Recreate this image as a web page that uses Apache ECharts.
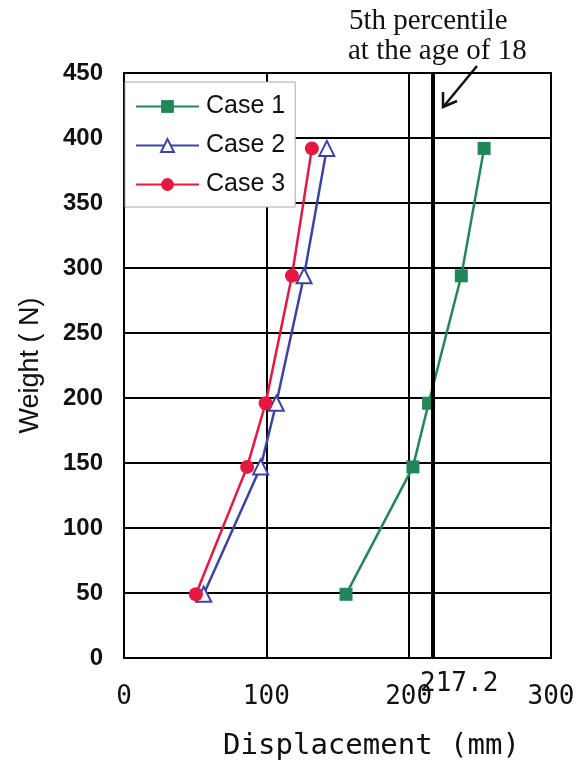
<!DOCTYPE html>
<html>
<head>
<meta charset="utf-8">
<script src="https://cdn.jsdelivr.net/npm/echarts@6/dist/echarts.min.js"></script>
<style>
html,body{margin:0;padding:0;background:#fff;}
#chart{width:587px;height:762px;}
</style>
</head>
<body>
<div id="chart"></div>
<script>
// Weights (N) and displacements (mm)
const weights = [49, 147, 196, 294, 392];
const case1 = [156, 203, 214, 237, 253];
const case2 = [56, 96, 107, 126.5, 142.5];
const case3 = [50.5, 86.5, 99.5, 118, 132];
const seriesNames = ['Case 1', 'Case 2', 'Case 3'];
const percentileValue = 217.2;
const xTicks = [0, 100, 200, 300];
const yTicks = [0, 50, 100, 150, 200, 250, 300, 350, 400, 450];

const pairs = (xs) => xs.map((x, i) => [x, weights[i]]);

const chart = echarts.init(document.getElementById('chart'), null, {renderer: 'canvas'});

const gridLine = {show: true, lineStyle: {color: '#000', width: 2}};

chart.setOption({
  animation: false,
  backgroundColor: '#fff',
  grid: {left: 124, right: 36, top: 73, bottom: 104, containLabel: false, outerBoundsMode: 'none',
         show: true, borderColor: '#000', borderWidth: 2, backgroundColor: 'transparent'},
  legend: {
    left: 125, top: 82,
    orient: 'vertical',
    data: seriesNames,
    backgroundColor: '#fff',
    borderColor: '#aaa', borderWidth: 1,
    padding: [12, 10, 10, 10],
    itemWidth: 63, itemHeight: 16, itemGap: 14,
    textStyle: {fontFamily: 'Liberation Sans', fontSize: 25, color: '#111', padding: [0, 0, 0, 2]}
  },
  xAxis: {
    type: 'value', min: xTicks[0], max: xTicks[xTicks.length - 1], interval: 100,
    name: 'Displacement (mm)', nameLocation: 'middle', nameGap: 74,
    nameTextStyle: {fontFamily: 'DejaVu Sans Mono', fontSize: 29, color: '#111', padding: [0, 0, 0, 68]},
    axisLine: {show: true, lineStyle: {color: '#000', width: 2}},
    axisTick: {show: false},
    axisLabel: {margin: 26, fontFamily: 'DejaVu Sans Mono', fontSize: 26, color: '#111'},
    splitLine: gridLine
  },
  yAxis: {
    type: 'value', min: yTicks[0], max: yTicks[yTicks.length - 1], interval: 50,
    name: 'Weight ( N)', nameLocation: 'middle', nameGap: 80,
    nameTextStyle: {fontFamily: 'Liberation Sans', fontSize: 27, color: '#111'},
    axisLine: {show: true, lineStyle: {color: '#000', width: 2}},
    axisTick: {show: false},
    axisLabel: {margin: 21, fontFamily: 'Liberation Sans', fontSize: 24, fontWeight: 'bold', color: '#111'},
    splitLine: gridLine
  },
  series: [
    {
      name: seriesNames[0], type: 'line', data: pairs(case1),
      symbol: 'rect', symbolSize: 13,
      lineStyle: {color: '#21875a', width: 2.5},
      itemStyle: {color: '#21875a'},
      markLine: {
        silent: true, symbol: 'none',
        lineStyle: {color: '#000', width: 4, type: 'solid'},
        label: {show: true, position: 'start', formatter: String(percentileValue), fontFamily: 'DejaVu Sans Mono', fontSize: 26, color: '#111', offset: [26, 8]},
        data: [{xAxis: percentileValue}]
      },
      z: 3
    },
    {
      name: seriesNames[1], type: 'line', data: pairs(case2),
      symbol: 'triangle', symbolSize: 15,
      lineStyle: {color: '#3c42a8', width: 2.5},
      itemStyle: {color: '#fff', borderColor: '#3c42a8', borderWidth: 2},
      z: 4
    },
    {
      name: seriesNames[2], type: 'line', data: pairs(case3),
      symbol: 'circle', symbolSize: 14,
      lineStyle: {color: '#e8173f', width: 2.5},
      itemStyle: {color: '#e8173f'},
      z: 5
    }
  ],
  graphic: [
    {type: 'text', left: 349, top: 7, style: {text: '5th percentile', fontFamily: 'Liberation Serif', fontSize: 29, fill: '#111'}},
    {type: 'text', left: 348, top: 37, style: {text: 'at the age of 18', fontFamily: 'Liberation Serif', fontSize: 29, fill: '#111'}},
    {type: 'line', shape: {x1: 477, y1: 66, x2: 444, y2: 106}, style: {stroke: '#111', lineWidth: 2.5}},
    {type: 'polyline', shape: {points: [[443, 92], [443, 107], [457, 101]]}, style: {stroke: '#111', lineWidth: 2.5, fill: null}}
  ]
});
</script>
</body>
</html>
